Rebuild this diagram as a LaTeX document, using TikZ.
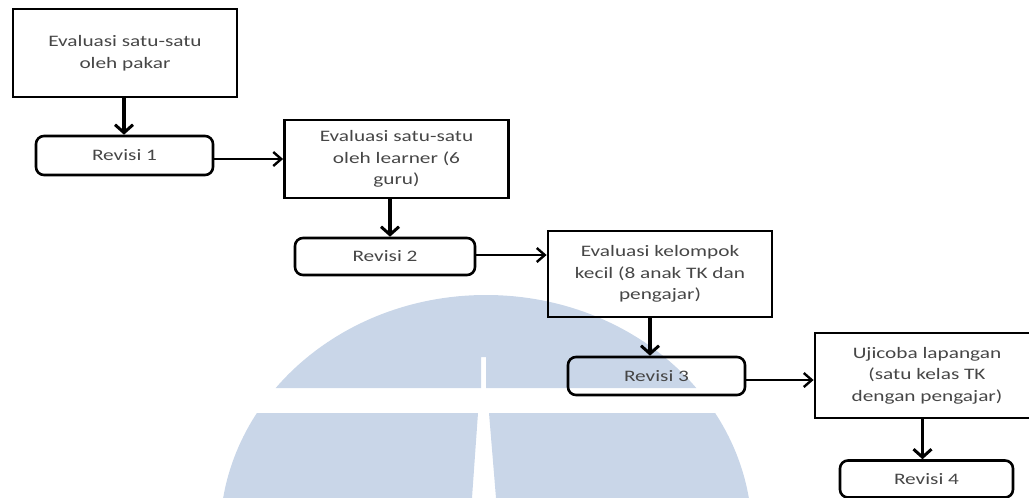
\documentclass[tikz,border=0pt]{standalone}
\usepackage{fontspec}
\setmainfont{Carlito}[FakeStretch=1.33]
\usetikzlibrary{arrows.meta,calc}
\definecolor{wm}{RGB}{201,214,232}
\definecolor{txt}{RGB}{70,70,70}
\begin{document}
\begin{tikzpicture}[x=1pt,y=-1pt,
  stagebox/.style={draw=black, line width=2.8pt, minimum width=224pt, text=txt,
    align=center, inner sep=0pt, font=\fontsize{16}{21.5}\selectfont},
  revbox/.style={draw=black, line width=2.6pt, rounded corners=8pt, text=txt,
    inner sep=0pt, font=\fontsize{16}{20}\selectfont},
  vflow/.style={line width=3.2pt, -{Straight Barb[length=8pt,width=18pt,line width=3pt]}},
  hflow/.style={line width=2.4pt, -{Straight Barb[length=8pt,width=14pt,line width=2.4pt]}}]
\useasboundingbox (0,0) rectangle (1029,498);
\clip (0,0) rectangle (1029,498);

% background emblem
\begin{scope}
  \clip (486,535) ellipse [x radius=266pt, y radius=240pt];
  \fill[wm] (200,280) -- (200,388) -- (481,388) -- (481,357) -- (486,357)
            -- (486,388) -- (780,388) -- (780,280) -- cycle;
  \fill[wm] (200,413) -- (478,413) -- (472,498) -- (200,498) -- cycle;
  \fill[wm] (489,413) -- (800,413) -- (800,498) -- (496,498) -- cycle;
\end{scope}

% evaluation stages
\node[stagebox, minimum height=88pt] (b1) at (125,53)
  {Evaluasi satu-satu\\oleh pakar};
\node[stagebox, minimum height=78pt] (b2) at (396.5,159)
  {Evaluasi satu-satu\\oleh learner (6\\guru)};
\node[stagebox, minimum height=86pt] (b3) at (660,274)
  {Evaluasi kelompok\\kecil (8 anak TK dan\\pengajar)};
\node[stagebox, minimum height=85pt] (b4) at (927,375.5)
  {Ujicoba lapangan\\(satu kelas TK\\dengan pengajar)};

% revisions
\node[revbox, minimum width=177pt, minimum height=39pt] (r1) at (124.5,155.5) {Revisi 1};
\node[revbox, minimum width=180pt, minimum height=37pt] (r2) at (385,256.5) {Revisi 2};
\node[revbox, minimum width=177pt, minimum height=38pt] (r3) at (656.5,376) {Revisi 3};
\node[revbox, minimum width=173pt, minimum height=37pt] (r4) at (926.5,479) {Revisi 4};

% flow
\draw[vflow] ($(b1.south)+(-1,0)$) -- ($(r1.north)+(-0.5,0)$);
\draw[hflow] (r1.east |- b2.west) -- (b2.west);
\draw[vflow] ($(b2.south)+(-6.5,0)$) -- ($(r2.north)+(5,0)$);
\draw[hflow] ($(r2.east)+(0,-1.5)$) -- ($(r2.east -| b3.west)+(0,-1.5)$);
\draw[vflow] ($(b3.south)+(-10,0)$) -- ($(r3.north)+(-6.5,0)$);
\draw[hflow] ($(r3.east)+(0,4)$) -- ($(r3.east -| b4.west)+(0,4)$);
\draw[vflow] ($(b4.south)+(-4.5,0)$) -- ($(r4.north)+(-4,0)$);
\end{tikzpicture}
\end{document}
